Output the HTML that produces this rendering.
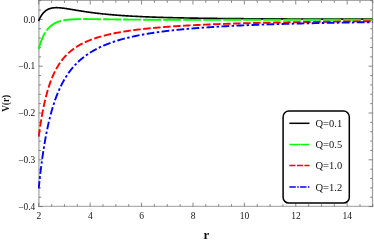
<!DOCTYPE html>
<html><head><meta charset="utf-8"><title>plot</title>
<style>html,body{margin:0;padding:0;background:#fff;width:374px;height:242px;overflow:hidden;font-family:"Liberation Serif",serif}</style>
</head><body>
<svg width="374" height="242" viewBox="0 0 374 242" style="position:absolute;left:0;top:0;will-change:transform">
<rect x="0" y="0" width="374" height="242" fill="#fff"/>
<g stroke="#858585" stroke-width="1.15" fill="none">
<path d="M38.9,0V207.1" stroke="#b8b8b8" stroke-width="1.6"/><path d="M38.1,206.4H373.1" stroke="#b0b0b0" stroke-width="1.4"/><path d="M372.5,0V207.1" stroke="#9c9c9c" stroke-width="1.2"/><path d="M38.1,0.4H373.1" stroke="#858585" stroke-width="0.8"/>
<path d="M38.76,206.6v-4.0M38.76,0.5v4.0M51.61,206.6v-2.4M51.61,0.5v2.4M64.46,206.6v-2.4M64.46,0.5v2.4M77.31,206.6v-2.4M77.31,0.5v2.4M90.16,206.6v-4.0M90.16,0.5v4.0M103.01,206.6v-2.4M103.01,0.5v2.4M115.86,206.6v-2.4M115.86,0.5v2.4M128.71,206.6v-2.4M128.71,0.5v2.4M141.56,206.6v-4.0M141.56,0.5v4.0M154.41,206.6v-2.4M154.41,0.5v2.4M167.26,206.6v-2.4M167.26,0.5v2.4M180.11,206.6v-2.4M180.11,0.5v2.4M192.96,206.6v-4.0M192.96,0.5v4.0M205.81,206.6v-2.4M205.81,0.5v2.4M218.66,206.6v-2.4M218.66,0.5v2.4M231.51,206.6v-2.4M231.51,0.5v2.4M244.36,206.6v-4.0M244.36,0.5v4.0M257.21,206.6v-2.4M257.21,0.5v2.4M270.06,206.6v-2.4M270.06,0.5v2.4M282.91,206.6v-2.4M282.91,0.5v2.4M295.76,206.6v-4.0M295.76,0.5v4.0M308.61,206.6v-2.4M308.61,0.5v2.4M321.46,206.6v-2.4M321.46,0.5v2.4M334.31,206.6v-2.4M334.31,0.5v2.4M347.16,206.6v-4.0M347.16,0.5v4.0M360.01,206.6v-2.4M360.01,0.5v2.4M372.86,206.6v-2.4M372.86,0.5v2.4M38.76,206.60h4.0M372.6,206.60h-4.0M38.76,197.24h2.4M372.6,197.24h-2.4M38.76,187.88h2.4M372.6,187.88h-2.4M38.76,178.52h2.4M372.6,178.52h-2.4M38.76,169.16h2.4M372.6,169.16h-2.4M38.76,159.80h4.0M372.6,159.80h-4.0M38.76,150.44h2.4M372.6,150.44h-2.4M38.76,141.08h2.4M372.6,141.08h-2.4M38.76,131.72h2.4M372.6,131.72h-2.4M38.76,122.36h2.4M372.6,122.36h-2.4M38.76,113.00h4.0M372.6,113.00h-4.0M38.76,103.64h2.4M372.6,103.64h-2.4M38.76,94.28h2.4M372.6,94.28h-2.4M38.76,84.92h2.4M372.6,84.92h-2.4M38.76,75.56h2.4M372.6,75.56h-2.4M38.76,66.20h4.0M372.6,66.20h-4.0M38.76,56.84h2.4M372.6,56.84h-2.4M38.76,47.48h2.4M372.6,47.48h-2.4M38.76,38.12h2.4M372.6,38.12h-2.4M38.76,28.76h2.4M372.6,28.76h-2.4M38.76,19.40h4.0M372.6,19.40h-4.0M38.76,10.04h2.4M372.6,10.04h-2.4M38.76,0.68h2.4M372.6,0.68h-2.4" stroke="#6c6c6c" stroke-width="0.8"/>
</g>
<clipPath id="c"><rect x="37.86" y="0.5" width="334.74" height="206.1"/></clipPath>
<g clip-path="url(#c)" fill="none" stroke-width="1.9" stroke-linejoin="round">
<path d="M38.52,21.12 L38.76,20.57 L39.02,19.98 L39.28,19.41 L39.53,18.87 L39.79,18.35 L40.05,17.84 L40.31,17.36 L40.57,16.90 L40.83,16.45 L41.08,16.02 L41.34,15.61 L41.60,15.22 L41.86,14.84 L42.12,14.48 L42.38,14.13 L42.63,13.80 L42.89,13.48 L43.15,13.17 L43.41,12.88 L43.67,12.59 L43.93,12.32 L44.18,12.07 L44.44,11.82 L44.70,11.58 L44.96,11.36 L45.22,11.14 L45.48,10.93 L45.73,10.73 L45.99,10.55 L46.25,10.37 L46.51,10.19 L46.77,10.03 L47.03,9.87 L47.28,9.73 L47.54,9.59 L47.80,9.45 L48.06,9.32 L48.32,9.20 L48.58,9.09 L48.83,8.98 L49.09,8.87 L49.35,8.78 L49.61,8.68 L49.87,8.60 L50.12,8.52 L50.38,8.44 L50.64,8.37 L50.90,8.30 L51.16,8.24 L51.42,8.18 L51.67,8.12 L51.93,8.07 L52.19,8.02 L52.45,7.98 L52.71,7.94 L52.97,7.90 L53.22,7.87 L53.48,7.84 L53.74,7.81 L54.00,7.79 L54.26,7.76 L54.52,7.74 L54.77,7.73 L55.03,7.71 L55.29,7.70 L55.55,7.69 L55.81,7.69 L56.07,7.68 L56.32,7.68 L56.58,7.68 L56.84,7.68 L57.10,7.69 L57.36,7.69 L57.62,7.70 L57.87,7.71 L58.13,7.72 L58.39,7.73 L58.65,7.74 L58.91,7.76 L59.17,7.77 L59.42,7.79 L59.68,7.81 L59.94,7.83 L60.20,7.85 L60.46,7.87 L60.71,7.90 L60.97,7.92 L61.23,7.95 L61.49,7.97 L61.75,8.00 L62.01,8.03 L62.26,8.06 L62.52,8.09 L62.78,8.12 L63.04,8.15 L63.30,8.18 L63.56,8.22 L63.81,8.25 L64.07,8.29 L64.33,8.32 L64.59,8.36 L64.85,8.39 L65.11,8.43 L65.36,8.46 L65.62,8.50 L65.88,8.54 L66.14,8.58 L66.40,8.62 L66.66,8.66 L66.91,8.70 L67.17,8.74 L67.43,8.78 L67.69,8.82 L67.95,8.86 L68.21,8.90 L68.46,8.94 L68.72,8.98 L68.98,9.02 L69.24,9.06 L69.50,9.11 L69.75,9.15 L70.01,9.19 L70.27,9.23 L70.53,9.27 L70.79,9.32 L71.05,9.36 L71.30,9.40 L71.56,9.45 L71.82,9.49 L72.08,9.53 L72.34,9.58 L72.60,9.62 L72.85,9.66 L73.11,9.71 L73.37,9.75 L73.63,9.79 L73.89,9.84 L74.15,9.88 L74.40,9.92 L74.66,9.97 L74.92,10.01 L75.18,10.05 L75.44,10.10 L75.70,10.14 L75.95,10.18 L76.21,10.22 L76.47,10.27 L76.73,10.31 L76.99,10.35 L77.25,10.40 L77.50,10.44 L77.76,10.48 L78.02,10.52 L78.28,10.57 L78.54,10.61 L78.80,10.65 L79.05,10.69 L79.31,10.74 L79.57,10.78 L79.83,10.82 L80.09,10.86 L80.34,10.90 L80.60,10.94 L80.86,10.98 L81.12,11.03 L81.38,11.07 L81.64,11.11 L81.89,11.15 L82.15,11.19 L82.41,11.23 L82.67,11.27 L82.93,11.31 L83.19,11.35 L83.44,11.39 L83.70,11.43 L83.96,11.47 L84.22,11.51 L84.48,11.55 L84.74,11.59 L84.99,11.63 L85.25,11.66 L85.51,11.70 L85.77,11.74 L86.03,11.78 L86.29,11.82 L86.54,11.86 L86.80,11.89 L87.06,11.93 L87.32,11.97 L87.58,12.00 L87.84,12.04 L88.09,12.08 L88.35,12.12 L88.61,12.15 L88.87,12.19 L89.13,12.22 L89.39,12.26 L89.64,12.30 L89.90,12.33 L90.16,12.37 L91.11,12.50 L92.05,12.62 L93.00,12.75 L93.94,12.87 L94.89,12.99 L95.83,13.10 L96.78,13.22 L97.72,13.33 L98.67,13.44 L99.61,13.55 L100.56,13.65 L101.51,13.76 L102.45,13.86 L103.40,13.96 L104.34,14.05 L105.29,14.15 L106.23,14.24 L107.18,14.33 L108.12,14.42 L109.07,14.51 L110.02,14.60 L110.96,14.68 L111.91,14.76 L112.85,14.84 L113.80,14.92 L114.74,15.00 L115.69,15.07 L116.63,15.15 L117.58,15.22 L118.52,15.29 L119.47,15.36 L120.42,15.43 L121.36,15.50 L122.31,15.56 L123.25,15.63 L124.20,15.69 L125.14,15.75 L126.09,15.81 L127.03,15.87 L127.98,15.93 L128.92,15.98 L129.87,16.04 L130.82,16.09 L131.76,16.15 L132.71,16.20 L133.65,16.25 L134.60,16.30 L135.54,16.35 L136.49,16.40 L137.43,16.44 L138.38,16.49 L139.33,16.53 L140.27,16.58 L141.22,16.62 L142.16,16.66 L143.11,16.71 L144.05,16.75 L145.00,16.79 L145.94,16.83 L146.89,16.87 L147.83,16.90 L148.78,16.94 L149.73,16.98 L150.67,17.01 L151.62,17.05 L152.56,17.08 L153.51,17.12 L154.45,17.15 L155.40,17.18 L156.34,17.21 L157.29,17.25 L158.23,17.28 L159.18,17.31 L160.13,17.34 L161.07,17.37 L162.02,17.39 L162.96,17.42 L163.91,17.45 L164.85,17.48 L165.80,17.50 L166.74,17.53 L167.69,17.56 L168.64,17.58 L169.58,17.61 L170.53,17.63 L171.47,17.65 L172.42,17.68 L173.36,17.70 L174.31,17.72 L175.25,17.75 L176.20,17.77 L177.14,17.79 L178.09,17.81 L179.04,17.83 L179.98,17.85 L180.93,17.87 L181.87,17.89 L182.82,17.91 L183.76,17.93 L184.71,17.95 L185.65,17.97 L186.60,17.99 L187.54,18.00 L188.49,18.02 L189.44,18.04 L190.38,18.06 L191.33,18.07 L192.27,18.09 L193.22,18.11 L194.16,18.12 L195.11,18.14 L196.05,18.15 L197.00,18.17 L197.95,18.18 L198.89,18.20 L199.84,18.21 L200.78,18.23 L201.73,18.24 L202.67,18.25 L203.62,18.27 L204.56,18.28 L205.51,18.29 L206.45,18.31 L207.40,18.32 L208.35,18.33 L209.29,18.34 L210.24,18.36 L211.18,18.37 L212.13,18.38 L213.07,18.39 L214.02,18.40 L214.96,18.42 L215.91,18.43 L216.85,18.44 L217.80,18.45 L218.75,18.46 L219.69,18.47 L220.64,18.48 L221.58,18.49 L222.53,18.50 L223.47,18.51 L224.42,18.52 L225.36,18.53 L226.31,18.54 L227.26,18.55 L228.20,18.56 L229.15,18.57 L230.09,18.58 L231.04,18.58 L231.98,18.59 L232.93,18.60 L233.87,18.61 L234.82,18.62 L235.76,18.63 L236.71,18.64 L237.66,18.64 L238.60,18.65 L239.55,18.66 L240.49,18.67 L241.44,18.67 L242.38,18.68 L243.33,18.69 L244.27,18.70 L245.22,18.70 L246.17,18.71 L247.11,18.72 L248.06,18.73 L249.00,18.73 L249.95,18.74 L250.89,18.75 L251.84,18.75 L252.78,18.76 L253.73,18.76 L254.67,18.77 L255.62,18.78 L256.57,18.78 L257.51,18.79 L258.46,18.80 L259.40,18.80 L260.35,18.81 L261.29,18.81 L262.24,18.82 L263.18,18.82 L264.13,18.83 L265.07,18.84 L266.02,18.84 L266.97,18.85 L267.91,18.85 L268.86,18.86 L269.80,18.86 L270.75,18.87 L271.69,18.87 L272.64,18.88 L273.58,18.88 L274.53,18.89 L275.48,18.89 L276.42,18.90 L277.37,18.90 L278.31,18.91 L279.26,18.91 L280.20,18.91 L281.15,18.92 L282.09,18.92 L283.04,18.93 L283.98,18.93 L284.93,18.94 L285.88,18.94 L286.82,18.94 L287.77,18.95 L288.71,18.95 L289.66,18.96 L290.60,18.96 L291.55,18.96 L292.49,18.97 L293.44,18.97 L294.38,18.98 L295.33,18.98 L296.28,18.98 L297.22,18.99 L298.17,18.99 L299.11,18.99 L300.06,19.00 L301.00,19.00 L301.95,19.00 L302.89,19.01 L303.84,19.01 L304.79,19.01 L305.73,19.02 L306.68,19.02 L307.62,19.02 L308.57,19.03 L309.51,19.03 L310.46,19.03 L311.40,19.04 L312.35,19.04 L313.29,19.04 L314.24,19.05 L315.19,19.05 L316.13,19.05 L317.08,19.05 L318.02,19.06 L318.97,19.06 L319.91,19.06 L320.86,19.07 L321.80,19.07 L322.75,19.07 L323.69,19.07 L324.64,19.08 L325.59,19.08 L326.53,19.08 L327.48,19.08 L328.42,19.09 L329.37,19.09 L330.31,19.09 L331.26,19.09 L332.20,19.10 L333.15,19.10 L334.10,19.10 L335.04,19.10 L335.99,19.11 L336.93,19.11 L337.88,19.11 L338.82,19.11 L339.77,19.11 L340.71,19.12 L341.66,19.12 L342.60,19.12 L343.55,19.12 L344.50,19.13 L345.44,19.13 L346.39,19.13 L347.33,19.13 L348.28,19.13 L349.22,19.14 L350.17,19.14 L351.11,19.14 L352.06,19.14 L353.00,19.14 L353.95,19.15 L354.90,19.15 L355.84,19.15 L356.79,19.15 L357.73,19.15 L358.68,19.15 L359.62,19.16 L360.57,19.16 L361.51,19.16 L362.46,19.16 L363.41,19.16 L364.35,19.17 L365.30,19.17 L366.24,19.17 L367.19,19.17 L368.13,19.17 L369.08,19.17 L370.02,19.18 L370.97,19.18 L371.91,19.18 L372.86,19.18" stroke="#000" stroke-width="1.65"/>
<path d="M38.60,49.23 L38.76,48.65 L39.02,47.73 L39.28,46.85 L39.53,45.99 L39.79,45.16 L40.05,44.36 L40.31,43.58 L40.57,42.83 L40.83,42.10 L41.08,41.39 L41.34,40.71 L41.60,40.04 L41.86,39.40 L42.12,38.78 L42.38,38.18 L42.63,37.59 L42.89,37.03 L43.15,36.48 L43.41,35.95 L43.67,35.43 L43.93,34.93 L44.18,34.45 L44.44,33.98 L44.70,33.53 L44.96,33.09 L45.22,32.66 L45.48,32.24 L45.73,31.84 L45.99,31.45 L46.25,31.08 L46.51,30.71 L46.77,30.35 L47.03,30.01 L47.28,29.67 L47.54,29.35 L47.80,29.04 L48.06,28.73 L48.32,28.43 L48.58,28.15 L48.83,27.87 L49.09,27.60 L49.35,27.34 L49.61,27.08 L49.87,26.83 L50.12,26.60 L50.38,26.36 L50.64,26.14 L50.90,25.92 L51.16,25.71 L51.42,25.50 L51.67,25.30 L51.93,25.10 L52.19,24.92 L52.45,24.73 L52.71,24.56 L52.97,24.38 L53.22,24.22 L53.48,24.05 L53.74,23.90 L54.00,23.74 L54.26,23.59 L54.52,23.45 L54.77,23.31 L55.03,23.17 L55.29,23.04 L55.55,22.91 L55.81,22.79 L56.07,22.67 L56.32,22.55 L56.58,22.44 L56.84,22.33 L57.10,22.22 L57.36,22.12 L57.62,22.02 L57.87,21.92 L58.13,21.82 L58.39,21.73 L58.65,21.64 L58.91,21.56 L59.17,21.47 L59.42,21.39 L59.68,21.31 L59.94,21.23 L60.20,21.16 L60.46,21.09 L60.71,21.02 L60.97,20.95 L61.23,20.88 L61.49,20.82 L61.75,20.76 L62.01,20.70 L62.26,20.64 L62.52,20.58 L62.78,20.53 L63.04,20.47 L63.30,20.42 L63.56,20.37 L63.81,20.32 L64.07,20.28 L64.33,20.23 L64.59,20.19 L64.85,20.14 L65.11,20.10 L65.36,20.06 L65.62,20.02 L65.88,19.99 L66.14,19.95 L66.40,19.91 L66.66,19.88 L66.91,19.85 L67.17,19.82 L67.43,19.78 L67.69,19.75 L67.95,19.73 L68.21,19.70 L68.46,19.67 L68.72,19.64 L68.98,19.62 L69.24,19.59 L69.50,19.57 L69.75,19.55 L70.01,19.53 L70.27,19.50 L70.53,19.48 L70.79,19.46 L71.05,19.45 L71.30,19.43 L71.56,19.41 L71.82,19.39 L72.08,19.38 L72.34,19.36 L72.60,19.34 L72.85,19.33 L73.11,19.32 L73.37,19.30 L73.63,19.29 L73.89,19.28 L74.15,19.27 L74.40,19.25 L74.66,19.24 L74.92,19.23 L75.18,19.22 L75.44,19.21 L75.70,19.20 L75.95,19.19 L76.21,19.19 L76.47,19.18 L76.73,19.17 L76.99,19.16 L77.25,19.16 L77.50,19.15 L77.76,19.14 L78.02,19.14 L78.28,19.13 L78.54,19.13 L78.80,19.12 L79.05,19.12 L79.31,19.11 L79.57,19.11 L79.83,19.10 L80.09,19.10 L80.34,19.10 L80.60,19.09 L80.86,19.09 L81.12,19.09 L81.38,19.09 L81.64,19.08 L81.89,19.08 L82.15,19.08 L82.41,19.08 L82.67,19.08 L82.93,19.08 L83.19,19.07 L83.44,19.07 L83.70,19.07 L83.96,19.07 L84.22,19.07 L84.48,19.07 L84.74,19.07 L84.99,19.07 L85.25,19.07 L85.51,19.07 L85.77,19.07 L86.03,19.07 L86.29,19.07 L86.54,19.08 L86.80,19.08 L87.06,19.08 L87.32,19.08 L87.58,19.08 L87.84,19.08 L88.09,19.08 L88.35,19.08 L88.61,19.09 L88.87,19.09 L89.13,19.09 L89.39,19.09 L89.64,19.09 L89.90,19.10 L90.16,19.10 L91.11,19.11 L92.05,19.12 L93.00,19.13 L93.94,19.14 L94.89,19.15 L95.83,19.16 L96.78,19.17 L97.72,19.19 L98.67,19.20 L99.61,19.21 L100.56,19.23 L101.51,19.24 L102.45,19.25 L103.40,19.27 L104.34,19.28 L105.29,19.29 L106.23,19.31 L107.18,19.32 L108.12,19.34 L109.07,19.35 L110.02,19.36 L110.96,19.37 L111.91,19.39 L112.85,19.40 L113.80,19.41 L114.74,19.42 L115.69,19.44 L116.63,19.45 L117.58,19.46 L118.52,19.47 L119.47,19.48 L120.42,19.49 L121.36,19.50 L122.31,19.52 L123.25,19.53 L124.20,19.54 L125.14,19.55 L126.09,19.55 L127.03,19.56 L127.98,19.57 L128.92,19.58 L129.87,19.59 L130.82,19.60 L131.76,19.61 L132.71,19.62 L133.65,19.62 L134.60,19.63 L135.54,19.64 L136.49,19.65 L137.43,19.65 L138.38,19.66 L139.33,19.67 L140.27,19.67 L141.22,19.68 L142.16,19.69 L143.11,19.69 L144.05,19.70 L145.00,19.70 L145.94,19.71 L146.89,19.71 L147.83,19.72 L148.78,19.72 L149.73,19.73 L150.67,19.73 L151.62,19.74 L152.56,19.74 L153.51,19.75 L154.45,19.75 L155.40,19.75 L156.34,19.76 L157.29,19.76 L158.23,19.76 L159.18,19.77 L160.13,19.77 L161.07,19.77 L162.02,19.78 L162.96,19.78 L163.91,19.78 L164.85,19.79 L165.80,19.79 L166.74,19.79 L167.69,19.79 L168.64,19.80 L169.58,19.80 L170.53,19.80 L171.47,19.80 L172.42,19.80 L173.36,19.81 L174.31,19.81 L175.25,19.81 L176.20,19.81 L177.14,19.81 L178.09,19.81 L179.04,19.82 L179.98,19.82 L180.93,19.82 L181.87,19.82 L182.82,19.82 L183.76,19.82 L184.71,19.82 L185.65,19.82 L186.60,19.82 L187.54,19.83 L188.49,19.83 L189.44,19.83 L190.38,19.83 L191.33,19.83 L192.27,19.83 L193.22,19.83 L194.16,19.83 L195.11,19.83 L196.05,19.83 L197.00,19.83 L197.95,19.83 L198.89,19.83 L199.84,19.83 L200.78,19.83 L201.73,19.83 L202.67,19.83 L203.62,19.83 L204.56,19.83 L205.51,19.83 L206.45,19.83 L207.40,19.83 L208.35,19.83 L209.29,19.83 L210.24,19.83 L211.18,19.83 L212.13,19.83 L213.07,19.83 L214.02,19.83 L214.96,19.83 L215.91,19.83 L216.85,19.83 L217.80,19.83 L218.75,19.83 L219.69,19.83 L220.64,19.83 L221.58,19.83 L222.53,19.83 L223.47,19.82 L224.42,19.82 L225.36,19.82 L226.31,19.82 L227.26,19.82 L228.20,19.82 L229.15,19.82 L230.09,19.82 L231.04,19.82 L231.98,19.82 L232.93,19.82 L233.87,19.82 L234.82,19.82 L235.76,19.82 L236.71,19.82 L237.66,19.81 L238.60,19.81 L239.55,19.81 L240.49,19.81 L241.44,19.81 L242.38,19.81 L243.33,19.81 L244.27,19.81 L245.22,19.81 L246.17,19.81 L247.11,19.81 L248.06,19.81 L249.00,19.80 L249.95,19.80 L250.89,19.80 L251.84,19.80 L252.78,19.80 L253.73,19.80 L254.67,19.80 L255.62,19.80 L256.57,19.80 L257.51,19.80 L258.46,19.80 L259.40,19.79 L260.35,19.79 L261.29,19.79 L262.24,19.79 L263.18,19.79 L264.13,19.79 L265.07,19.79 L266.02,19.79 L266.97,19.79 L267.91,19.79 L268.86,19.78 L269.80,19.78 L270.75,19.78 L271.69,19.78 L272.64,19.78 L273.58,19.78 L274.53,19.78 L275.48,19.78 L276.42,19.78 L277.37,19.78 L278.31,19.77 L279.26,19.77 L280.20,19.77 L281.15,19.77 L282.09,19.77 L283.04,19.77 L283.98,19.77 L284.93,19.77 L285.88,19.77 L286.82,19.76 L287.77,19.76 L288.71,19.76 L289.66,19.76 L290.60,19.76 L291.55,19.76 L292.49,19.76 L293.44,19.76 L294.38,19.76 L295.33,19.76 L296.28,19.75 L297.22,19.75 L298.17,19.75 L299.11,19.75 L300.06,19.75 L301.00,19.75 L301.95,19.75 L302.89,19.75 L303.84,19.75 L304.79,19.75 L305.73,19.74 L306.68,19.74 L307.62,19.74 L308.57,19.74 L309.51,19.74 L310.46,19.74 L311.40,19.74 L312.35,19.74 L313.29,19.74 L314.24,19.73 L315.19,19.73 L316.13,19.73 L317.08,19.73 L318.02,19.73 L318.97,19.73 L319.91,19.73 L320.86,19.73 L321.80,19.73 L322.75,19.73 L323.69,19.72 L324.64,19.72 L325.59,19.72 L326.53,19.72 L327.48,19.72 L328.42,19.72 L329.37,19.72 L330.31,19.72 L331.26,19.72 L332.20,19.72 L333.15,19.72 L334.10,19.71 L335.04,19.71 L335.99,19.71 L336.93,19.71 L337.88,19.71 L338.82,19.71 L339.77,19.71 L340.71,19.71 L341.66,19.71 L342.60,19.71 L343.55,19.70 L344.50,19.70 L345.44,19.70 L346.39,19.70 L347.33,19.70 L348.28,19.70 L349.22,19.70 L350.17,19.70 L351.11,19.70 L352.06,19.70 L353.00,19.70 L353.95,19.69 L354.90,19.69 L355.84,19.69 L356.79,19.69 L357.73,19.69 L358.68,19.69 L359.62,19.69 L360.57,19.69 L361.51,19.69 L362.46,19.69 L363.41,19.69 L364.35,19.68 L365.30,19.68 L366.24,19.68 L367.19,19.68 L368.13,19.68 L369.08,19.68 L370.02,19.68 L370.97,19.68 L371.91,19.68 L372.86,19.68" stroke="#00ff00" stroke-dasharray="18.15 2.3 17.7 2.3 17.7 2.3 17.7 2.3 17.7 2.3 17.7 2.3 17.7 2.3 17.7 2.3 17.7 2.3 17.7 2.3 17.7 2.3 17.7 2.3 17.7 2.3 17.7 2.3 17.7 2.3 17.7 2.3 17.7 2.3 17.7 2.3 17.7 2.3 17.7 2.3"/>
<path d="M38.68,136.99 L38.76,136.40 L39.02,134.46 L39.28,132.56 L39.53,130.72 L39.79,128.92 L40.05,127.16 L40.31,125.45 L40.57,123.79 L40.83,122.16 L41.08,120.58 L41.34,119.03 L41.60,117.52 L41.86,116.05 L42.12,114.61 L42.38,113.20 L42.63,111.83 L42.89,110.49 L43.15,109.19 L43.41,107.91 L43.67,106.66 L43.93,105.44 L44.18,104.25 L44.44,103.08 L44.70,101.94 L44.96,100.83 L45.22,99.74 L45.48,98.67 L45.73,97.63 L45.99,96.61 L46.25,95.61 L46.51,94.64 L46.77,93.68 L47.03,92.74 L47.28,91.83 L47.54,90.93 L47.80,90.05 L48.06,89.19 L48.32,88.35 L48.58,87.52 L48.83,86.71 L49.09,85.92 L49.35,85.14 L49.61,84.38 L49.87,83.63 L50.12,82.90 L50.38,82.18 L50.64,81.47 L50.90,80.78 L51.16,80.10 L51.42,79.44 L51.67,78.78 L51.93,78.14 L52.19,77.51 L52.45,76.89 L52.71,76.29 L52.97,75.69 L53.22,75.11 L53.48,74.53 L53.74,73.97 L54.00,73.41 L54.26,72.87 L54.52,72.34 L54.77,71.81 L55.03,71.29 L55.29,70.79 L55.55,70.29 L55.81,69.80 L56.07,69.31 L56.32,68.84 L56.58,68.37 L56.84,67.91 L57.10,67.46 L57.36,67.02 L57.62,66.58 L57.87,66.15 L58.13,65.73 L58.39,65.31 L58.65,64.90 L58.91,64.50 L59.17,64.10 L59.42,63.71 L59.68,63.33 L59.94,62.95 L60.20,62.57 L60.46,62.21 L60.71,61.84 L60.97,61.49 L61.23,61.14 L61.49,60.79 L61.75,60.45 L62.01,60.11 L62.26,59.78 L62.52,59.45 L62.78,59.13 L63.04,58.82 L63.30,58.50 L63.56,58.19 L63.81,57.89 L64.07,57.59 L64.33,57.29 L64.59,57.00 L64.85,56.72 L65.11,56.43 L65.36,56.15 L65.62,55.88 L65.88,55.60 L66.14,55.33 L66.40,55.07 L66.66,54.81 L66.91,54.55 L67.17,54.29 L67.43,54.04 L67.69,53.79 L67.95,53.55 L68.21,53.31 L68.46,53.07 L68.72,52.83 L68.98,52.60 L69.24,52.37 L69.50,52.14 L69.75,51.91 L70.01,51.69 L70.27,51.47 L70.53,51.26 L70.79,51.04 L71.05,50.83 L71.30,50.62 L71.56,50.41 L71.82,50.21 L72.08,50.01 L72.34,49.81 L72.60,49.61 L72.85,49.42 L73.11,49.22 L73.37,49.03 L73.63,48.85 L73.89,48.66 L74.15,48.48 L74.40,48.29 L74.66,48.11 L74.92,47.94 L75.18,47.76 L75.44,47.58 L75.70,47.41 L75.95,47.24 L76.21,47.07 L76.47,46.91 L76.73,46.74 L76.99,46.58 L77.25,46.42 L77.50,46.26 L77.76,46.10 L78.02,45.94 L78.28,45.79 L78.54,45.63 L78.80,45.48 L79.05,45.33 L79.31,45.18 L79.57,45.04 L79.83,44.89 L80.09,44.75 L80.34,44.60 L80.60,44.46 L80.86,44.32 L81.12,44.18 L81.38,44.05 L81.64,43.91 L81.89,43.77 L82.15,43.64 L82.41,43.51 L82.67,43.38 L82.93,43.25 L83.19,43.12 L83.44,42.99 L83.70,42.87 L83.96,42.74 L84.22,42.62 L84.48,42.50 L84.74,42.37 L84.99,42.25 L85.25,42.13 L85.51,42.02 L85.77,41.90 L86.03,41.78 L86.29,41.67 L86.54,41.55 L86.80,41.44 L87.06,41.33 L87.32,41.22 L87.58,41.11 L87.84,41.00 L88.09,40.89 L88.35,40.78 L88.61,40.68 L88.87,40.57 L89.13,40.47 L89.39,40.36 L89.64,40.26 L89.90,40.16 L90.16,40.06 L91.11,39.70 L92.05,39.34 L93.00,39.00 L93.94,38.67 L94.89,38.35 L95.83,38.03 L96.78,37.73 L97.72,37.43 L98.67,37.15 L99.61,36.87 L100.56,36.59 L101.51,36.33 L102.45,36.07 L103.40,35.81 L104.34,35.57 L105.29,35.33 L106.23,35.09 L107.18,34.86 L108.12,34.64 L109.07,34.42 L110.02,34.21 L110.96,34.00 L111.91,33.80 L112.85,33.60 L113.80,33.41 L114.74,33.22 L115.69,33.03 L116.63,32.85 L117.58,32.67 L118.52,32.50 L119.47,32.33 L120.42,32.16 L121.36,32.00 L122.31,31.84 L123.25,31.68 L124.20,31.53 L125.14,31.38 L126.09,31.23 L127.03,31.08 L127.98,30.94 L128.92,30.80 L129.87,30.67 L130.82,30.53 L131.76,30.40 L132.71,30.27 L133.65,30.15 L134.60,30.02 L135.54,29.90 L136.49,29.78 L137.43,29.66 L138.38,29.55 L139.33,29.43 L140.27,29.32 L141.22,29.21 L142.16,29.11 L143.11,29.00 L144.05,28.90 L145.00,28.79 L145.94,28.69 L146.89,28.59 L147.83,28.50 L148.78,28.40 L149.73,28.31 L150.67,28.21 L151.62,28.12 L152.56,28.03 L153.51,27.95 L154.45,27.86 L155.40,27.77 L156.34,27.69 L157.29,27.61 L158.23,27.53 L159.18,27.45 L160.13,27.37 L161.07,27.29 L162.02,27.21 L162.96,27.14 L163.91,27.06 L164.85,26.99 L165.80,26.92 L166.74,26.85 L167.69,26.78 L168.64,26.71 L169.58,26.64 L170.53,26.57 L171.47,26.50 L172.42,26.44 L173.36,26.38 L174.31,26.31 L175.25,26.25 L176.20,26.19 L177.14,26.13 L178.09,26.07 L179.04,26.01 L179.98,25.95 L180.93,25.89 L181.87,25.83 L182.82,25.78 L183.76,25.72 L184.71,25.67 L185.65,25.61 L186.60,25.56 L187.54,25.51 L188.49,25.46 L189.44,25.41 L190.38,25.36 L191.33,25.31 L192.27,25.26 L193.22,25.21 L194.16,25.16 L195.11,25.11 L196.05,25.07 L197.00,25.02 L197.95,24.97 L198.89,24.93 L199.84,24.88 L200.78,24.84 L201.73,24.80 L202.67,24.75 L203.62,24.71 L204.56,24.67 L205.51,24.63 L206.45,24.59 L207.40,24.55 L208.35,24.51 L209.29,24.47 L210.24,24.43 L211.18,24.39 L212.13,24.35 L213.07,24.32 L214.02,24.28 L214.96,24.24 L215.91,24.20 L216.85,24.17 L217.80,24.13 L218.75,24.10 L219.69,24.06 L220.64,24.03 L221.58,24.00 L222.53,23.96 L223.47,23.93 L224.42,23.90 L225.36,23.86 L226.31,23.83 L227.26,23.80 L228.20,23.77 L229.15,23.74 L230.09,23.71 L231.04,23.68 L231.98,23.65 L232.93,23.62 L233.87,23.59 L234.82,23.56 L235.76,23.53 L236.71,23.50 L237.66,23.47 L238.60,23.44 L239.55,23.42 L240.49,23.39 L241.44,23.36 L242.38,23.33 L243.33,23.31 L244.27,23.28 L245.22,23.26 L246.17,23.23 L247.11,23.20 L248.06,23.18 L249.00,23.15 L249.95,23.13 L250.89,23.10 L251.84,23.08 L252.78,23.06 L253.73,23.03 L254.67,23.01 L255.62,22.99 L256.57,22.96 L257.51,22.94 L258.46,22.92 L259.40,22.89 L260.35,22.87 L261.29,22.85 L262.24,22.83 L263.18,22.81 L264.13,22.79 L265.07,22.76 L266.02,22.74 L266.97,22.72 L267.91,22.70 L268.86,22.68 L269.80,22.66 L270.75,22.64 L271.69,22.62 L272.64,22.60 L273.58,22.58 L274.53,22.56 L275.48,22.54 L276.42,22.52 L277.37,22.51 L278.31,22.49 L279.26,22.47 L280.20,22.45 L281.15,22.43 L282.09,22.41 L283.04,22.40 L283.98,22.38 L284.93,22.36 L285.88,22.34 L286.82,22.33 L287.77,22.31 L288.71,22.29 L289.66,22.28 L290.60,22.26 L291.55,22.24 L292.49,22.23 L293.44,22.21 L294.38,22.20 L295.33,22.18 L296.28,22.16 L297.22,22.15 L298.17,22.13 L299.11,22.12 L300.06,22.10 L301.00,22.09 L301.95,22.07 L302.89,22.06 L303.84,22.04 L304.79,22.03 L305.73,22.01 L306.68,22.00 L307.62,21.98 L308.57,21.97 L309.51,21.96 L310.46,21.94 L311.40,21.93 L312.35,21.92 L313.29,21.90 L314.24,21.89 L315.19,21.88 L316.13,21.86 L317.08,21.85 L318.02,21.84 L318.97,21.82 L319.91,21.81 L320.86,21.80 L321.80,21.78 L322.75,21.77 L323.69,21.76 L324.64,21.75 L325.59,21.74 L326.53,21.72 L327.48,21.71 L328.42,21.70 L329.37,21.69 L330.31,21.68 L331.26,21.66 L332.20,21.65 L333.15,21.64 L334.10,21.63 L335.04,21.62 L335.99,21.61 L336.93,21.60 L337.88,21.58 L338.82,21.57 L339.77,21.56 L340.71,21.55 L341.66,21.54 L342.60,21.53 L343.55,21.52 L344.50,21.51 L345.44,21.50 L346.39,21.49 L347.33,21.48 L348.28,21.47 L349.22,21.46 L350.17,21.45 L351.11,21.44 L352.06,21.43 L353.00,21.42 L353.95,21.41 L354.90,21.40 L355.84,21.39 L356.79,21.38 L357.73,21.37 L358.68,21.36 L359.62,21.35 L360.57,21.34 L361.51,21.33 L362.46,21.32 L363.41,21.32 L364.35,21.31 L365.30,21.30 L366.24,21.29 L367.19,21.28 L368.13,21.27 L369.08,21.26 L370.02,21.25 L370.97,21.25 L371.91,21.24 L372.86,21.23" stroke="#ff0000" stroke-dasharray="7.51 2.5" stroke-dashoffset="9.66"/>
<path d="M38.70,188.48 L38.76,187.88 L39.02,185.37 L39.28,182.92 L39.53,180.54 L39.79,178.20 L40.05,175.92 L40.31,173.70 L40.57,171.53 L40.83,169.40 L41.08,167.33 L41.34,165.30 L41.60,163.31 L41.86,161.38 L42.12,159.48 L42.38,157.63 L42.63,155.81 L42.89,154.04 L43.15,152.30 L43.41,150.60 L43.67,148.94 L43.93,147.31 L44.18,145.71 L44.44,144.15 L44.70,142.62 L44.96,141.12 L45.22,139.66 L45.48,138.22 L45.73,136.81 L45.99,135.43 L46.25,134.07 L46.51,132.75 L46.77,131.44 L47.03,130.17 L47.28,128.91 L47.54,127.69 L47.80,126.48 L48.06,125.30 L48.32,124.14 L48.58,123.00 L48.83,121.88 L49.09,120.78 L49.35,119.71 L49.61,118.65 L49.87,117.61 L50.12,116.59 L50.38,115.58 L50.64,114.60 L50.90,113.63 L51.16,112.68 L51.42,111.74 L51.67,110.82 L51.93,109.92 L52.19,109.03 L52.45,108.16 L52.71,107.30 L52.97,106.46 L53.22,105.63 L53.48,104.81 L53.74,104.00 L54.00,103.21 L54.26,102.43 L54.52,101.67 L54.77,100.91 L55.03,100.17 L55.29,99.44 L55.55,98.72 L55.81,98.01 L56.07,97.32 L56.32,96.63 L56.58,95.95 L56.84,95.29 L57.10,94.63 L57.36,93.99 L57.62,93.35 L57.87,92.72 L58.13,92.10 L58.39,91.49 L58.65,90.89 L58.91,90.30 L59.17,89.72 L59.42,89.14 L59.68,88.57 L59.94,88.01 L60.20,87.46 L60.46,86.92 L60.71,86.38 L60.97,85.85 L61.23,85.33 L61.49,84.81 L61.75,84.31 L62.01,83.80 L62.26,83.31 L62.52,82.82 L62.78,82.34 L63.04,81.86 L63.30,81.39 L63.56,80.93 L63.81,80.47 L64.07,80.02 L64.33,79.57 L64.59,79.13 L64.85,78.70 L65.11,78.27 L65.36,77.85 L65.62,77.43 L65.88,77.01 L66.14,76.60 L66.40,76.20 L66.66,75.80 L66.91,75.41 L67.17,75.02 L67.43,74.63 L67.69,74.25 L67.95,73.88 L68.21,73.51 L68.46,73.14 L68.72,72.78 L68.98,72.42 L69.24,72.06 L69.50,71.71 L69.75,71.36 L70.01,71.02 L70.27,70.68 L70.53,70.35 L70.79,70.02 L71.05,69.69 L71.30,69.36 L71.56,69.04 L71.82,68.73 L72.08,68.41 L72.34,68.10 L72.60,67.79 L72.85,67.49 L73.11,67.19 L73.37,66.89 L73.63,66.60 L73.89,66.31 L74.15,66.02 L74.40,65.73 L74.66,65.45 L74.92,65.17 L75.18,64.90 L75.44,64.62 L75.70,64.35 L75.95,64.08 L76.21,63.82 L76.47,63.56 L76.73,63.29 L76.99,63.04 L77.25,62.78 L77.50,62.53 L77.76,62.28 L78.02,62.03 L78.28,61.79 L78.54,61.54 L78.80,61.30 L79.05,61.06 L79.31,60.83 L79.57,60.59 L79.83,60.36 L80.09,60.13 L80.34,59.91 L80.60,59.68 L80.86,59.46 L81.12,59.24 L81.38,59.02 L81.64,58.80 L81.89,58.59 L82.15,58.37 L82.41,58.16 L82.67,57.95 L82.93,57.74 L83.19,57.54 L83.44,57.33 L83.70,57.13 L83.96,56.93 L84.22,56.73 L84.48,56.54 L84.74,56.34 L84.99,56.15 L85.25,55.96 L85.51,55.77 L85.77,55.58 L86.03,55.39 L86.29,55.21 L86.54,55.02 L86.80,54.84 L87.06,54.66 L87.32,54.48 L87.58,54.30 L87.84,54.13 L88.09,53.95 L88.35,53.78 L88.61,53.61 L88.87,53.44 L89.13,53.27 L89.39,53.10 L89.64,52.94 L89.90,52.77 L90.16,52.61 L91.11,52.02 L92.05,51.45 L93.00,50.90 L93.94,50.36 L94.89,49.83 L95.83,49.32 L96.78,48.83 L97.72,48.34 L98.67,47.87 L99.61,47.41 L100.56,46.97 L101.51,46.53 L102.45,46.11 L103.40,45.70 L104.34,45.29 L105.29,44.90 L106.23,44.52 L107.18,44.14 L108.12,43.77 L109.07,43.42 L110.02,43.07 L110.96,42.73 L111.91,42.39 L112.85,42.07 L113.80,41.75 L114.74,41.44 L115.69,41.13 L116.63,40.83 L117.58,40.54 L118.52,40.26 L119.47,39.98 L120.42,39.70 L121.36,39.44 L122.31,39.17 L123.25,38.92 L124.20,38.66 L125.14,38.42 L126.09,38.18 L127.03,37.94 L127.98,37.71 L128.92,37.48 L129.87,37.25 L130.82,37.03 L131.76,36.82 L132.71,36.61 L133.65,36.40 L134.60,36.20 L135.54,36.00 L136.49,35.80 L137.43,35.61 L138.38,35.42 L139.33,35.24 L140.27,35.05 L141.22,34.87 L142.16,34.70 L143.11,34.53 L144.05,34.36 L145.00,34.19 L145.94,34.02 L146.89,33.86 L147.83,33.71 L148.78,33.55 L149.73,33.40 L150.67,33.25 L151.62,33.10 L152.56,32.95 L153.51,32.81 L154.45,32.67 L155.40,32.53 L156.34,32.39 L157.29,32.26 L158.23,32.13 L159.18,31.99 L160.13,31.87 L161.07,31.74 L162.02,31.62 L162.96,31.49 L163.91,31.37 L164.85,31.25 L165.80,31.14 L166.74,31.02 L167.69,30.91 L168.64,30.80 L169.58,30.69 L170.53,30.58 L171.47,30.47 L172.42,30.37 L173.36,30.26 L174.31,30.16 L175.25,30.06 L176.20,29.96 L177.14,29.86 L178.09,29.77 L179.04,29.67 L179.98,29.58 L180.93,29.48 L181.87,29.39 L182.82,29.30 L183.76,29.21 L184.71,29.13 L185.65,29.04 L186.60,28.95 L187.54,28.87 L188.49,28.79 L189.44,28.71 L190.38,28.62 L191.33,28.54 L192.27,28.47 L193.22,28.39 L194.16,28.31 L195.11,28.24 L196.05,28.16 L197.00,28.09 L197.95,28.01 L198.89,27.94 L199.84,27.87 L200.78,27.80 L201.73,27.73 L202.67,27.66 L203.62,27.60 L204.56,27.53 L205.51,27.46 L206.45,27.40 L207.40,27.33 L208.35,27.27 L209.29,27.21 L210.24,27.15 L211.18,27.08 L212.13,27.02 L213.07,26.96 L214.02,26.90 L214.96,26.85 L215.91,26.79 L216.85,26.73 L217.80,26.67 L218.75,26.62 L219.69,26.56 L220.64,26.51 L221.58,26.46 L222.53,26.40 L223.47,26.35 L224.42,26.30 L225.36,26.25 L226.31,26.20 L227.26,26.15 L228.20,26.10 L229.15,26.05 L230.09,26.00 L231.04,25.95 L231.98,25.90 L232.93,25.86 L233.87,25.81 L234.82,25.76 L235.76,25.72 L236.71,25.67 L237.66,25.63 L238.60,25.58 L239.55,25.54 L240.49,25.50 L241.44,25.45 L242.38,25.41 L243.33,25.37 L244.27,25.33 L245.22,25.29 L246.17,25.25 L247.11,25.21 L248.06,25.17 L249.00,25.13 L249.95,25.09 L250.89,25.05 L251.84,25.01 L252.78,24.98 L253.73,24.94 L254.67,24.90 L255.62,24.86 L256.57,24.83 L257.51,24.79 L258.46,24.76 L259.40,24.72 L260.35,24.69 L261.29,24.65 L262.24,24.62 L263.18,24.58 L264.13,24.55 L265.07,24.52 L266.02,24.49 L266.97,24.45 L267.91,24.42 L268.86,24.39 L269.80,24.36 L270.75,24.33 L271.69,24.29 L272.64,24.26 L273.58,24.23 L274.53,24.20 L275.48,24.17 L276.42,24.14 L277.37,24.11 L278.31,24.09 L279.26,24.06 L280.20,24.03 L281.15,24.00 L282.09,23.97 L283.04,23.94 L283.98,23.92 L284.93,23.89 L285.88,23.86 L286.82,23.84 L287.77,23.81 L288.71,23.78 L289.66,23.76 L290.60,23.73 L291.55,23.71 L292.49,23.68 L293.44,23.66 L294.38,23.63 L295.33,23.61 L296.28,23.58 L297.22,23.56 L298.17,23.53 L299.11,23.51 L300.06,23.49 L301.00,23.46 L301.95,23.44 L302.89,23.42 L303.84,23.39 L304.79,23.37 L305.73,23.35 L306.68,23.33 L307.62,23.31 L308.57,23.28 L309.51,23.26 L310.46,23.24 L311.40,23.22 L312.35,23.20 L313.29,23.18 L314.24,23.16 L315.19,23.14 L316.13,23.12 L317.08,23.09 L318.02,23.07 L318.97,23.05 L319.91,23.03 L320.86,23.02 L321.80,23.00 L322.75,22.98 L323.69,22.96 L324.64,22.94 L325.59,22.92 L326.53,22.90 L327.48,22.88 L328.42,22.86 L329.37,22.85 L330.31,22.83 L331.26,22.81 L332.20,22.79 L333.15,22.77 L334.10,22.76 L335.04,22.74 L335.99,22.72 L336.93,22.70 L337.88,22.69 L338.82,22.67 L339.77,22.65 L340.71,22.64 L341.66,22.62 L342.60,22.60 L343.55,22.59 L344.50,22.57 L345.44,22.56 L346.39,22.54 L347.33,22.52 L348.28,22.51 L349.22,22.49 L350.17,22.48 L351.11,22.46 L352.06,22.45 L353.00,22.43 L353.95,22.42 L354.90,22.40 L355.84,22.39 L356.79,22.37 L357.73,22.36 L358.68,22.34 L359.62,22.33 L360.57,22.32 L361.51,22.30 L362.46,22.29 L363.41,22.27 L364.35,22.26 L365.30,22.25 L366.24,22.23 L367.19,22.22 L368.13,22.21 L369.08,22.19 L370.02,22.18 L370.97,22.17 L371.91,22.15 L372.86,22.14" stroke="#0000ff" stroke-dasharray="7.74 2.4 2.5 2.4" stroke-dashoffset="0.27"/>
</g>
<g font-family="Liberation Serif, serif" font-size="9.4" fill="#141414">
<text x="38.91" y="218.7" font-size="9.5" text-anchor="middle">2</text>
<text x="90.31" y="218.7" font-size="9.5" text-anchor="middle">4</text>
<text x="141.71" y="218.7" font-size="9.5" text-anchor="middle">6</text>
<text x="193.11" y="218.7" font-size="9.5" text-anchor="middle">8</text>
<text x="244.51" y="218.7" font-size="9.5" text-anchor="middle">10</text>
<text x="295.91" y="218.7" font-size="9.5" text-anchor="middle">12</text>
<text x="347.31" y="218.7" font-size="9.5" text-anchor="middle">14</text>
<text x="35.3" y="22.50" text-anchor="end">0.0</text>
<text x="35.3" y="69.30" text-anchor="end"><tspan dy="0.8">−</tspan><tspan dy="-0.8">0.1</tspan></text>
<text x="35.3" y="116.10" text-anchor="end"><tspan dy="0.8">−</tspan><tspan dy="-0.8">0.2</tspan></text>
<text x="35.3" y="162.90" text-anchor="end"><tspan dy="0.8">−</tspan><tspan dy="-0.8">0.3</tspan></text>
<text x="35.3" y="209.70" text-anchor="end"><tspan dy="0.8">−</tspan><tspan dy="-0.8">0.4</tspan></text>
</g>
<g font-family="Liberation Serif, serif" font-weight="bold" fill="#111">
<text x="206.3" y="238.9" font-size="13" text-anchor="middle">r</text>
<text transform="translate(8.9,103.4) rotate(-90) scale(0.94,1)" font-size="9.8" text-anchor="middle">V(r)</text>
</g>
<rect x="283.1" y="111.0" width="66.2" height="92.1" rx="5.8" ry="5.8" fill="#fff" stroke="#000" stroke-width="1.5"/>
<path d="M289.4,123.3H309.5" stroke="#000" stroke-width="1.5" fill="none"/>
<text x="315.5" y="127.1" font-family="Liberation Serif, serif" font-size="10.5" fill="#111">Q=0.1</text>
<path d="M289.4,144.6H309.5" stroke="#00ff00" stroke-width="1.5" fill="none" stroke-dasharray="10.9 0.45"/>
<text x="315.5" y="148.4" font-family="Liberation Serif, serif" font-size="10.5" fill="#111">Q=0.5</text>
<path d="M289.4,165.6H309.5" stroke="#ff0000" stroke-width="1.5" fill="none" stroke-dasharray="6 1.5"/>
<text x="315.5" y="169.4" font-family="Liberation Serif, serif" font-size="10.5" fill="#111">Q=1.0</text>
<path d="M289.4,186.9H309.5" stroke="#0000ff" stroke-width="1.5" fill="none" stroke-dasharray="6.4 1.4 1.5 1.4"/>
<text x="315.5" y="190.7" font-family="Liberation Serif, serif" font-size="10.5" fill="#111">Q=1.2</text>
</svg>
</body></html>
